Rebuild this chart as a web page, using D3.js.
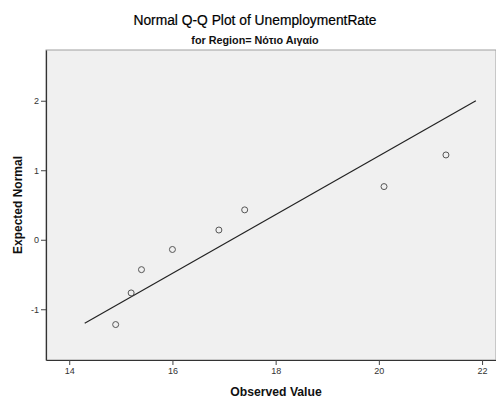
<!DOCTYPE html>
<html>
<head>
<meta charset="utf-8">
<script src="https://cdn.jsdelivr.net/npm/d3@7"></script>
<style>
  html, body { margin: 0; padding: 0; background: #fff; }
  svg { display: block; font-family: "Liberation Sans", Arial, sans-serif; }
</style>
</head>
<body>
<div id="chart"></div>
<script>
// Observed values and their expected normal scores
const observed = [14.9, 15.2, 15.4, 16.0, 16.9, 17.4, 20.1, 21.3];
const expected = [-1.22, -0.765, -0.43, -0.14, 0.14, 0.43, 0.765, 1.22];
// Reference line end points
const lineX = [14.3, 21.88];
const lineY = [-1.2, 2.0];
const xTicks = [14, 16, 18, 20, 22];
const yTicks = [-1, 0, 1, 2];

const width = 496, height = 399;
const margin = { top: 50, right: 0, bottom: 39, left: 46 };

const svg = d3.select('#chart').append('svg')
  .attr('width', width).attr('height', height);

const x = d3.scaleLinear().domain([13.55, 22.27]).range([margin.left, width - margin.right]);
const y = d3.scaleLinear().domain([-1.73, 2.73]).range([height - margin.bottom, margin.top]);

// plot area
svg.append('rect')
  .attr('x', margin.left).attr('y', margin.top)
  .attr('width', width - margin.left - margin.right)
  .attr('height', height - margin.top - margin.bottom)
  .attr('fill', '#f0f0f0')
  .attr('stroke', '#a0a0a0')
  .attr('stroke-width', 1);

// axes
const fmt = d => String(d);
const xAxis = svg.append('g')
  .attr('transform', `translate(0,${height - margin.bottom})`)
  .call(d3.axisBottom(x).tickValues(xTicks).tickSize(5).tickSizeOuter(0).tickPadding(3).tickFormat(fmt));
const yAxis = svg.append('g')
  .attr('transform', `translate(${margin.left},0)`)
  .call(d3.axisLeft(y).tickValues(yTicks).tickSize(5).tickSizeOuter(0).tickPadding(2).tickFormat(fmt));

[xAxis, yAxis].forEach(a => {
  a.select('.domain').attr('stroke', '#333').attr('stroke-width', 1.2);
  a.selectAll('.tick line').attr('stroke', '#444');
  a.selectAll('.tick text').attr('fill', '#333').style('font-size', '9px')
    .style('font-family', '"Liberation Sans", Arial, sans-serif');
});

// reference line
svg.append('line')
  .attr('x1', x(lineX[0])).attr('y1', y(lineY[0]))
  .attr('x2', x(lineX[1])).attr('y2', y(lineY[1]))
  .attr('stroke', '#222').attr('stroke-width', 1.2);

// points
svg.append('g').selectAll('circle')
  .data(observed)
  .join('circle')
  .attr('cx', d => x(d))
  .attr('cy', (d, i) => y(expected[i]))
  .attr('r', 3)
  .attr('fill', 'none')
  .attr('stroke', '#555')
  .attr('stroke-width', 1);

// titles
svg.append('text')
  .attr('x', 255).attr('y', 25)
  .attr('text-anchor', 'middle')
  .style('font-size', '13.8px')
  .attr('fill', '#000')
  .attr('stroke', '#000').attr('stroke-width', 0.2)
  .text('Normal Q-Q Plot of UnemploymentRate');

svg.append('text')
  .attr('x', 255).attr('y', 44)
  .attr('text-anchor', 'middle')
  .style('font-size', '10.8px')
  .style('font-weight', 'bold')
  .attr('fill', '#111')
  .text('for Region= Νότιο Αιγαίο');

svg.append('text')
  .attr('x', 276).attr('y', 396)
  .attr('text-anchor', 'middle')
  .style('font-size', '12.2px')
  .style('font-weight', 'bold')
  .attr('fill', '#111')
  .text('Observed Value');

svg.append('text')
  .attr('transform', 'translate(22,205) rotate(-90)')
  .attr('text-anchor', 'middle')
  .style('font-size', '12px')
  .style('font-weight', 'bold')
  .attr('fill', '#111')
  .text('Expected Normal');
</script>
</body>
</html>
